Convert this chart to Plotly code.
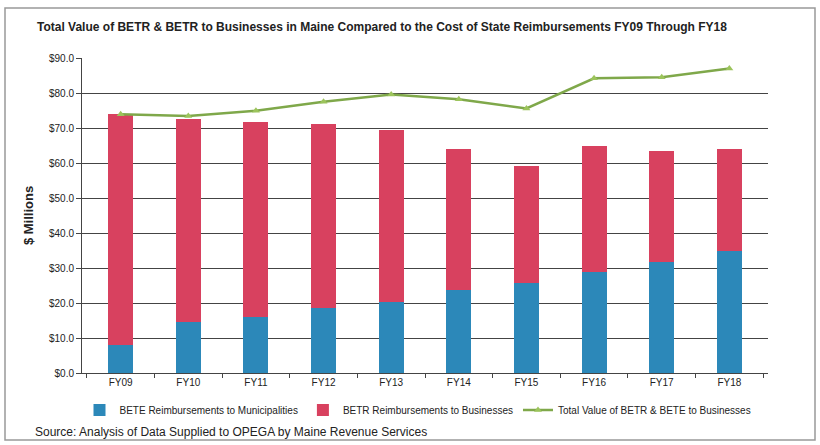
import plotly.graph_objects as go

categories = ["FY09", "FY10", "FY11", "FY12", "FY13", "FY14", "FY15", "FY16", "FY17", "FY18"]
bete_municipalities = [7.9, 14.5, 16.0, 18.5, 20.3, 23.6, 25.7, 28.8, 31.6, 34.8]
betr_businesses = [66.1, 58.1, 55.6, 52.7, 49.2, 40.4, 33.5, 36.2, 31.9, 29.2]
total_value = [73.9, 73.4, 74.9, 77.5, 79.6, 78.2, 75.6, 84.2, 84.5, 87.0]
y_ticks = [0, 10, 20, 30, 40, 50, 60, 70, 80, 90]
y_tick_labels = ["$" + format(v, ".1f") for v in y_ticks]

FONT = "Liberation Sans Narrow, Liberation Sans, Arial, sans-serif"

fig = go.Figure()
fig.add_trace(go.Bar(x=categories, y=bete_municipalities, name="BETE Reimbursements to Municipalities",
                     marker=dict(color="#2c88b9", line=dict(width=0))))
fig.add_trace(go.Bar(x=categories, y=betr_businesses, name="BETR Reimbursements to Businesses",
                     marker=dict(color="#d8415f", line=dict(width=0))))
fig.add_trace(go.Scatter(x=categories, y=total_value, name="Total Value of BETR & BETE to Businesses",
                         mode="lines+markers", line=dict(color="#7fa84a", width=2.5),
                         marker=dict(symbol="triangle-up", size=7, color="#9cc45c")))

L, R, T, B = 82, 52, 58, 72
W, H = 820, 445
pw, ph = W - L - R, H - T - B

def px(x):
    return (x - L) / pw

def py(y):
    return (H - B - y) / ph

fig.update_layout(
    width=W, height=H,
    margin=dict(l=L, r=R, t=T, b=B),
    barmode="stack", bargap=0.63,
    paper_bgcolor="white", plot_bgcolor="white",
    font=dict(family=FONT, size=10, color="#222"),
    title=dict(text="<b>Total Value of BETR & BETR to Businesses in Maine Compared to the Cost of State Reimbursements FY09 Through FY18</b>",
               x=37 / W, xanchor="left", y=1 - 27 / H, yanchor="middle",
               font=dict(family=FONT, size=12, color="#222")),
    legend=dict(orientation="h", x=px(418), xanchor="center", y=py(410), yanchor="middle",
                font=dict(family=FONT, size=10, color="#222"), traceorder="normal",
                itemwidth=30, tracegroupgap=0),
    showlegend=True,
)
fig.update_yaxes(range=[0, 90], tickvals=y_ticks, ticktext=y_tick_labels,
                 showgrid=True, gridcolor="#444", gridwidth=1.2,
                 showline=True, linecolor="#444", linewidth=1, ticks="outside", ticklen=5, tickcolor="#444",
                 tickfont=dict(family=FONT, size=10, color="#222"),
                 title=dict(text="<b>$ Millions</b>", font=dict(family=FONT, size=13, color="#222"), standoff=12),
                 zeroline=False)
fig.update_xaxes(showline=True, linecolor="#444", linewidth=1, ticks="outside", ticklen=4, tickcolor="#444",
                 tickson="boundaries", tickfont=dict(family=FONT, size=10, color="#222"))

fig.add_shape(type="rect", xref="paper", yref="paper",
              x0=px(5), x1=px(815), y0=py(440), y1=py(8),
              line=dict(color="#999", width=1.5), fillcolor="rgba(0,0,0,0)", layer="below")
fig.add_annotation(text="Source: Analysis of Data Supplied to OPEGA by Maine Revenue Services",
                   xref="paper", yref="paper", x=px(33), y=py(432), xanchor="left", yanchor="middle",
                   showarrow=False, font=dict(family=FONT, size=12, color="#222"))

fig.write_html("out.html")
